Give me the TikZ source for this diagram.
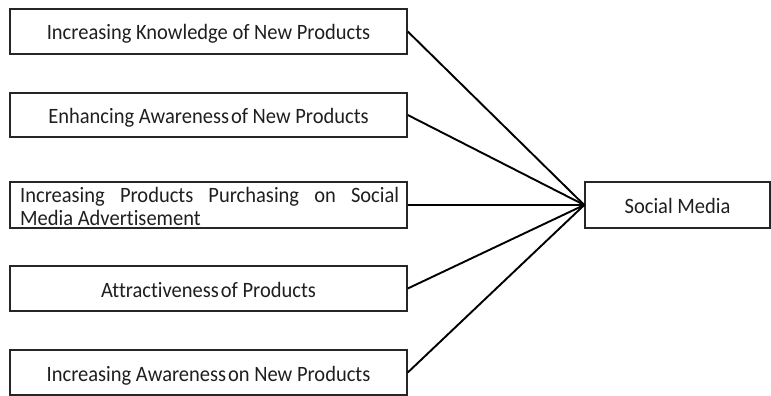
\documentclass[tikz,border=0pt]{standalone}
\usepackage{fontspec}
\usepackage{graphicx}
\setmainfont{Carlito}[Ligatures=NoCommon]
\newcommand{\tallt}[1]{\scalebox{1}[1.07]{#1}}
\begin{document}
\begin{tikzpicture}[x=1pt,y=-1pt,
  box/.style={draw=black!85, line width=1.5pt, rectangle, inner sep=0pt, minimum width=397pt, minimum height=45pt},
  txt/.style={font=\fontsize{20.5}{23}\selectfont, text=black!88, inner sep=0pt, anchor=base},
  link/.style={draw=black, line width=1.9pt}]
\useasboundingbox (0,0) rectangle (771,396);
\node[box] (b1) at (208.5,31.5) {};
\node[box, minimum height=44pt] (b2) at (208.5,115) {};
\node[box, minimum height=46pt] (b3) at (208.5,205) {};
\node[box] (b4) at (208.5,288.5) {};
\node[box] (b5) at (208.5,372.5) {};
\node[box, minimum width=185pt, minimum height=46pt] (sm) at (677.5,205) {};
\node[txt] (t1) at ([yshift=-8.5pt]b1.center) {\tallt{Increasing Knowledge of New Products}};
\node[txt] (t2) at ([yshift=-8.5pt]b2.center) {\tallt{Enhancing Awareness\hspace{2pt}of New Products}};
\node[txt, anchor=base west] (t3a) at (20,202) {\tallt{\makebox[379pt][s]{Increasing Products Purchasing on Social}}};
\node[txt, anchor=base west] (t3b) at (20,225) {\tallt{Media Advertisement}};
\node[txt] (t4) at ([yshift=-8.5pt]b4.center) {\tallt{Attractiveness\hspace{2pt}of Products}};
\node[txt] (t5) at ([yshift=-8.5pt]b5.center) {\tallt{Increasing Awareness\hspace{2pt}on New Products}};
\node[txt] (t6) at ([yshift=-8pt]sm.center) {\tallt{Social Media}};
\foreach \b in {b1,b2,b3,b4,b5} \draw[link] (\b.east) -- (sm.west);
\end{tikzpicture}
\end{document}
